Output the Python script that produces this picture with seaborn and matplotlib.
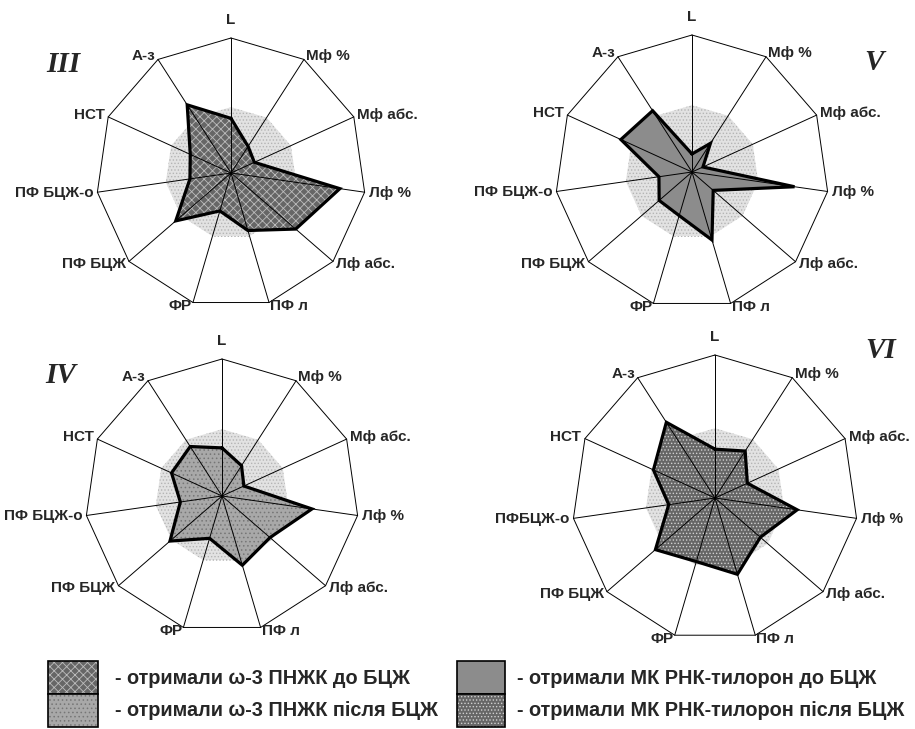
import numpy as np
import seaborn as sns
import matplotlib.pyplot as plt
from matplotlib.patches import Rectangle

categories = ['L', 'Мф %', 'Мф абс.', 'Лф %', 'Лф абс.', 'ПФ л', 'ФР',
              'ПФ БЦЖ', 'ПФ БЦЖ-о', 'НСТ', 'А-з']
categories_vi = ['L', 'Мф %', 'Мф абс.', 'Лф %', 'Лф абс.', 'ПФ л', 'ФР',
                 'ПФ БЦЖ', 'ПФБЦЖ-о', 'НСТ', 'А-з']

# values in % of normal (normal = 100)
norm_vals = [100] * 11
vals_iii = [83, 48, 39, 167, 130, 91, 60, 111, 63, 68, 123]
vals_v = [27, 51, 18, 155, 42, 106, 68, 65, 50, 117, 109]
vals_iv = [72, 54, 36, 136, 95, 108, 66, 103, 63, 83, 88]
vals_vi = [70, 80, 51, 119, 86, 114, 95, 113, 67, 97, 129]

legend_labels = ['- отримали ω-3 ПНЖК до БЦЖ',
                 '- отримали ω-3 ПНЖК після БЦЖ',
                 '- отримали МК РНК-тилорон до БЦЖ',
                 '- отримали МК РНК-тилорон після БЦЖ']

RMAX = 205
W, H = 915, 729

sns.set_style('white')
plt.rcParams['font.family'] = ['Liberation Sans', 'DejaVu Sans']
plt.rcParams['hatch.linewidth'] = 0.6

styles = {
    'III': dict(facecolor='#666666', edgecolor='#bcbcbc', hatch='xxxx'),
    'V': dict(facecolor='#8c8c8c', edgecolor='#8c8c8c', hatch=None),
    'IV': dict(facecolor='#a8a8a8', edgecolor='#767676', hatch='....'),
    'VI': dict(facecolor='#666666', edgecolor='#d0d0d0', hatch='.....'),
}
norm_style = dict(facecolor='#e2e2e2', edgecolor='#b4b4b4', hatch='.....')


def radar(fig, cx, cy, R, values, labels, style):
    ax = fig.add_axes([(cx - R) / W, (H - cy - R) / H, 2 * R / W, 2 * R / H],
                      projection='polar')
    ax.set_theta_zero_location('N')
    ax.set_theta_direction(-1)
    ax.set_ylim(0, RMAX)
    ax.set_xticks([])
    ax.set_yticks([])
    ax.grid(False)
    ax.spines['polar'].set_visible(False)

    n = len(labels)
    th = np.linspace(0, 2 * np.pi, n, endpoint=False)
    thc = np.append(th, th[0])

    nv = np.append(norm_vals, norm_vals[0])
    ax.fill(thc, nv, linewidth=0, zorder=1, **norm_style)

    v = np.append(values, values[0])
    ax.fill(thc, v, linewidth=0, zorder=2, **style)

    for t in th:
        ax.plot([t, t], [0, RMAX], color='black', lw=0.7, zorder=3, clip_on=False)
    ax.plot(thc, [RMAX] * (n + 1), color='black', lw=0.7, zorder=3, clip_on=False)
    ax.plot(thc, v, color='black', lw=2.3, zorder=4, solid_joinstyle='miter')

    for t, lab in zip(th, labels):
        s = np.sin(t)
        if s > 0.1:
            ha = 'left'
        elif s < -0.1:
            ha = 'right'
        else:
            ha = 'center'
        va = 'bottom' if t == 0 else 'center'
        r = RMAX * (1.08 if t == 0 else 1.03)
        ax.text(t, r, lab, ha=ha, va=va, fontsize=11, fontweight='bold',
                clip_on=False)
    return ax


fig = plt.figure(figsize=(W / 100, H / 100), dpi=100)

radar(fig, 231, 173, 135, vals_iii, categories, styles['III'])
radar(fig, 692, 172, 137, vals_v, categories, styles['V'])
radar(fig, 222, 496, 137, vals_iv, categories, styles['IV'])
radar(fig, 715, 498, 143, vals_vi, categories_vi, styles['VI'])

for txt, x, y in [('III', 63, 65), ('V', 874, 63), ('IV', 61, 376), ('VI', 881, 351)]:
    fig.text(x / W, 1 - y / H, txt, ha='center', va='center', fontsize=21,
             fontweight='bold', style='italic', family='Liberation Serif')

# legend
leg = [
    (48, 661, 50, styles['III'], legend_labels[0], 115, 679),
    (48, 694, 50, styles['IV'], legend_labels[1], 115, 710),
    (457, 661, 48, styles['V'], legend_labels[2], 517, 679),
    (457, 694, 48, styles['VI'], legend_labels[3], 517, 710),
]
for x, y, w, st, lab, tx, ty in leg:
    rect = Rectangle((x / W, 1 - (y + 33) / H), w / W, 33 / H,
                     transform=fig.transFigure, linewidth=0, **st)
    fig.add_artist(rect)
    frame = Rectangle((x / W, 1 - (y + 33) / H), w / W, 33 / H,
                      transform=fig.transFigure, fill=False,
                      edgecolor='black', linewidth=1.2)
    fig.add_artist(frame)
    fig.text(tx / W, 1 - ty / H, lab, ha='left', va='center', fontsize=14.3,
             fontweight='bold')

fig.savefig('out.png', dpi=100, facecolor='white')
